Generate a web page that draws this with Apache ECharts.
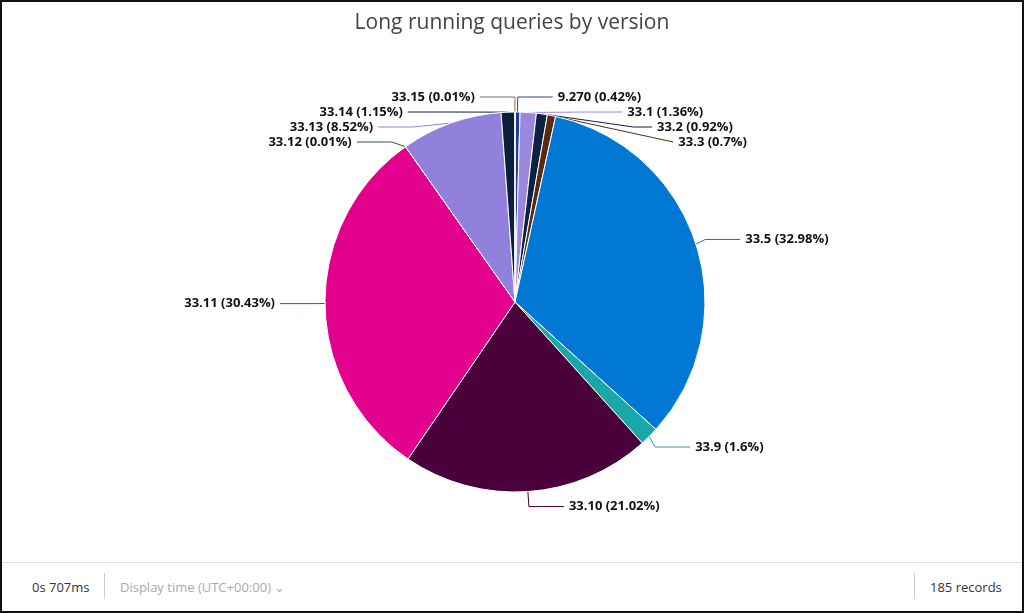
<!DOCTYPE html>
<html><head><meta charset="utf-8">
<script src="https://cdn.jsdelivr.net/npm/echarts@6/dist/echarts.min.js"></script>
<style>
html,body{margin:0;padding:0;background:#fff;}
#frame{position:absolute;left:0;top:0;width:1020px;height:609px;border:2px solid #111;font-family:"Open Sans",sans-serif;}
#c{position:absolute;left:0;top:0;width:1020px;height:560px;}
#foot{position:absolute;left:0;top:560px;width:1020px;height:49px;border-top:1px solid #ddd;font-size:13px;color:#333;}
</style></head><body>
<div id="frame"><div id="c"></div>
<div id="foot">
<span style="position:absolute;left:30px;top:15px;">0s 707ms</span>
<span style="position:absolute;left:102px;top:10px;height:26px;border-left:1px solid #ccc;"></span>
<span style="position:absolute;left:118px;top:15px;color:#aaa;">Display time (UTC+00:00) &#8964;</span>
<span style="position:absolute;left:912px;top:10px;height:26px;border-left:1px solid #ccc;"></span>
<span style="position:absolute;left:928px;top:15px;">185 records</span>
</div></div>
<script>
const categories=["9.270","33.1","33.2","33.3","33.5","33.9","33.10","33.11","33.12","33.13","33.14","33.15"];
const values=[0.42,1.36,0.92,0.7,32.98,1.6,21.02,30.43,0.01,8.52,1.15,0.01];
const colors=["#1b3fa0","#9b87e0","#0b2245","#5a2a10","#0078d4","#19a7a7","#4a003a","#e3008c","#2f5a3a","#9180dc","#0b1f3b","#8a6a50"];
const chart=echarts.init(document.getElementById('c'));
chart.setOption({
 animation:false,
 title:{text:'Long running queries by version',left:'center',top:6,textStyle:{fontFamily:'Open Sans',fontSize:21,fontWeight:'normal',color:'#444'}},
 series:[{type:'pie',center:[513,300],radius:190,startAngle:90,clockwise:true,
  itemStyle:{borderColor:'#fff',borderWidth:1},
  label:{formatter:p=>p.name+' ('+p.value+'%)',fontFamily:'Open Sans',fontWeight:'bold',fontSize:13,color:'#111'},
  labelLine:{length:15,length2:35,lineStyle:{width:1}},
  data:categories.map((n,i)=>({name:n,value:values[i],itemStyle:{color:colors[i]}}))
 }]
});
</script></body></html>
